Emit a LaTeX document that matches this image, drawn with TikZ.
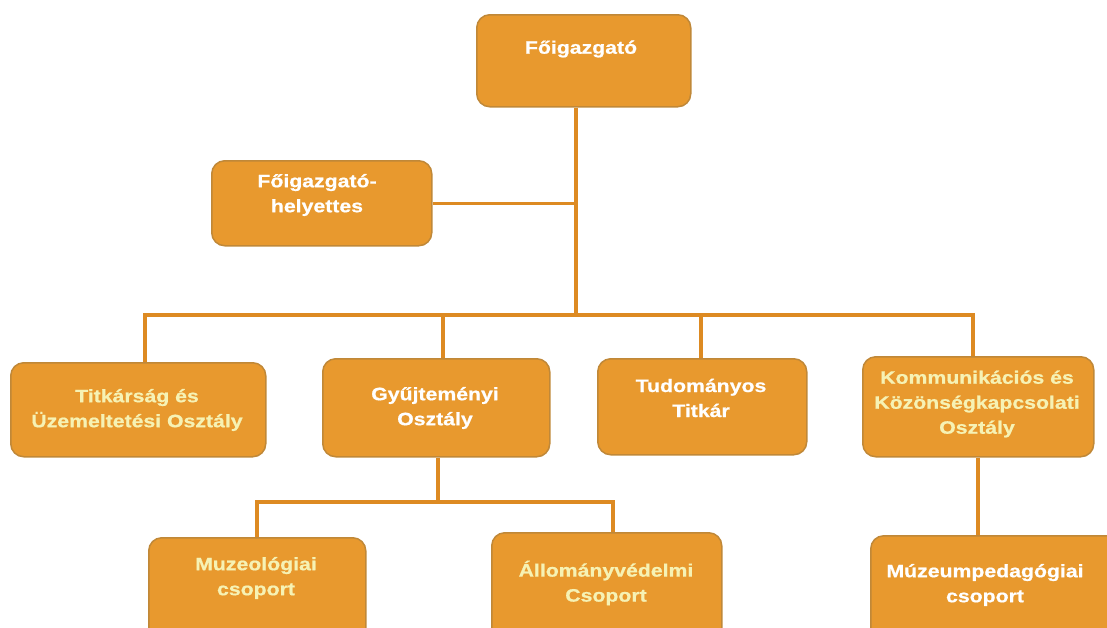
\documentclass[tikz,border=0pt]{standalone}
\usepackage{fontspec}
\setmainfont[FakeStretch=1.18,BoldFeatures={FakeBold=0.8}]{Liberation Sans}
\definecolor{boxfill}{HTML}{E8992E}
\definecolor{boxline}{HTML}{C08838}
\definecolor{conn}{HTML}{DD8A22}
\definecolor{paleyellow}{HTML}{F6F2B4}
\tikzset{
  orgbox/.style={draw=boxline, line width=1.5pt, fill=boxfill, rounded corners=13pt, inner sep=0pt, anchor=north west},
  orgtext/.style={align=center, font=\fontsize{18pt}{25pt}\selectfont\bfseries, inner sep=0pt},
  wtext/.style={orgtext, text=white},
  ytext/.style={orgtext, text=paleyellow},
  link/.style={draw=conn, line width=3.5pt}
}
\begin{document}
\begin{tikzpicture}[x=1pt,y=-1pt]
\useasboundingbox (0,0) rectangle (1107,627);
% boxes
\node[orgbox, minimum width=214pt, minimum height=92pt] (A) at (476,14) {};
\node[orgbox, minimum width=220pt, minimum height=85pt] (B) at (211,160) {};
\node[orgbox, minimum width=255pt, minimum height=94pt] (C) at (10,362) {};
\node[orgbox, minimum width=227pt, minimum height=98pt] (D) at (322,358) {};
\node[orgbox, minimum width=209pt, minimum height=96pt] (E) at (597,358) {};
\node[orgbox, minimum width=231pt, minimum height=100pt] (F) at (862,356) {};
\node[orgbox, minimum width=217pt, minimum height=110pt] (G) at (148,537) {};
\node[orgbox, minimum width=230pt, minimum height=110pt] (H) at (491,532) {};
\node[orgbox, minimum width=250pt, minimum height=110pt] (I) at (870,535) {};
% texts
\node[wtext] (tA) at (581,49) {Főigazgató};
\node[wtext] (tB) at (317,195) {Főigazgató-\\helyettes};
\node[ytext] (tC) at (137,410) {Titkárság és\\Üzemeltetési Osztály};
\node[wtext] (tD) at (435,408) {Gyűjteményi\\Osztály};
\node[wtext] (tE) at (701,398) {Tudományos\\Titkár};
\node[ytext] (tF) at (977,404) {Kommunikációs és\\Közönségkapcsolati\\Osztály};
\node[ytext] (tG) at (256,578) {Muzeológiai\\csoport};
\node[ytext] (tH) at (606,583) {Állományvédelmi\\Csoport};
\node[wtext] (tI) at (985,585) {Múzeumpedagógiai\\csoport};
% junctions
\coordinate (j1) at (576,315);
\coordinate (cC) at (145,315);
\coordinate (cD) at (443,315);
\coordinate (cE) at (701,315);
\coordinate (cF) at (973,315);
\coordinate (j2) at (438,502);
\coordinate (cG) at (257,502);
\coordinate (cH) at (613,502);
\coordinate (cI) at (978,456);
% connectors
\draw[link] (A.south -| j1) -- (j1);
\draw[link] (B.east) -- (B.east -| j1);
\draw[link, line cap=rect] (cC) -- (cF);
\draw[link] (cC) -- (cC |- C.north);
\draw[link] (cD) -- (cD |- D.north);
\draw[link] (cE) -- (cE |- E.north);
\draw[link] (cF) -- (cF |- F.north);
\draw[link] (D.south -| j2) -- (j2);
\draw[link, line cap=rect] (cG) -- (cH);
\draw[link] (cG) -- (cG |- G.north);
\draw[link] (cH) -- (cH |- H.north);
\draw[link] (F.south -| cI) -- (I.north -| cI);
\end{tikzpicture}
\end{document}
